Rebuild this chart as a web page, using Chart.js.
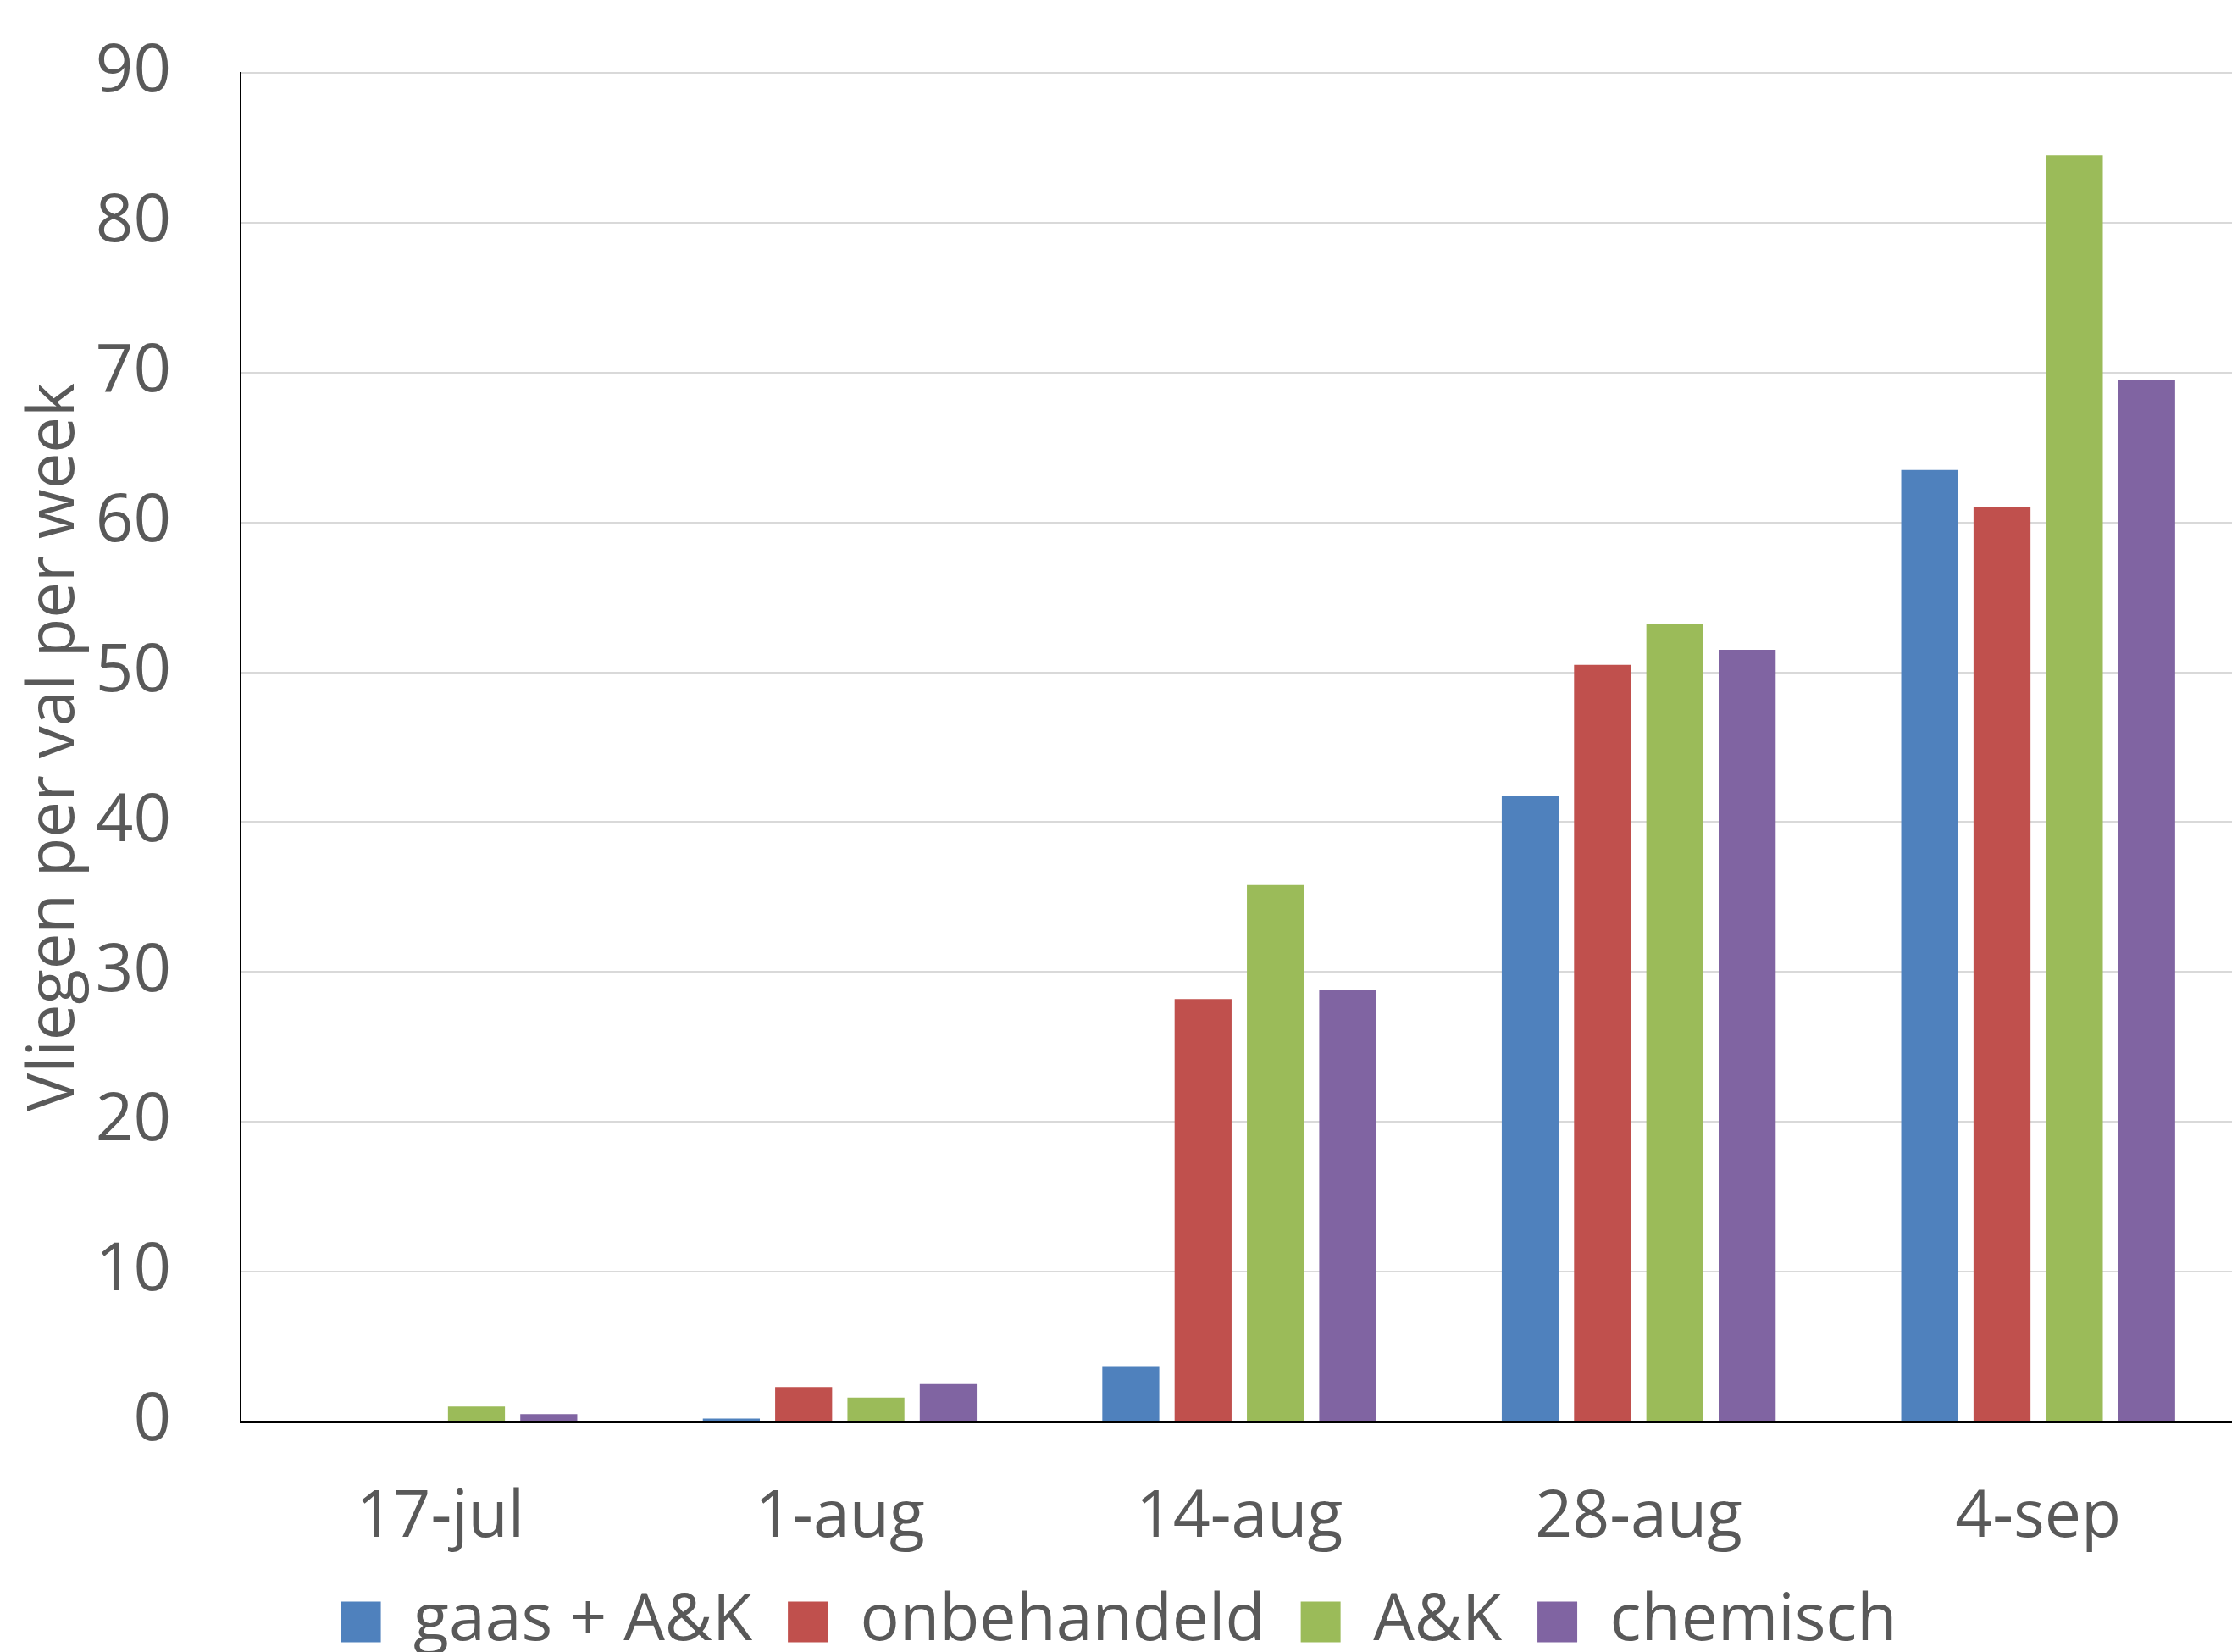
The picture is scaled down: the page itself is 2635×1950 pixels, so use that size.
<!DOCTYPE html>
<html>
<head>
<meta charset="utf-8">
<script src="https://cdn.jsdelivr.net/npm/chart.js@4.4.1/dist/chart.umd.min.js"></script>
<style>
  html, body { margin: 0; padding: 0; background: #fff; overflow: hidden; }
  #wrap { width: 2642px; height: 1963px; }
</style>
</head>
<body>
<div id="wrap"><canvas id="chart" width="2642" height="1963"></canvas></div>
<script>
// data
const dates = ["17-jul", "1-aug", "14-aug", "28-aug", "4-sep"];
const gaasAK = [0, 0.2, 3.7, 41.75, 63.5];
const onbehandeld = [0, 2.3, 28.2, 50.5, 61.0];
const ak = [1.0, 1.6, 35.8, 53.25, 84.5];
const chemisch = [0.5, 2.5, 28.8, 51.5, 69.5];
const seriesNames = ["gaas + A&K", "onbehandeld", "A&K", "chemisch"];
const seriesColors = ["#4F81BD", "#C0504D", "#9BBB59", "#8064A2"];
const yMax = 90;
const yStep = 10;
const yTitle = "Vliegen per val per week";

const textColor = "#595959";
const fontFamily = "'Open Sans', 'DejaVu Sans', sans-serif";

const datasets = [gaasAK, onbehandeld, ak, chemisch].map((values, i) => ({
  label: seriesNames[i],
  data: values,
  backgroundColor: seriesColors[i],
  borderWidth: 0,
  categoryPercentage: 0.724,
  barPercentage: 0.788,
}));

new Chart(document.getElementById("chart"), {
  type: "bar",
  data: { labels: dates, datasets },
  options: {
    responsive: false,
    animation: false,
    devicePixelRatio: 1,
    layout: { padding: { top: 86, left: 0, right: 0, bottom: 0 } },
    plugins: {
      tooltip: { enabled: false },
      legend: {
        position: "bottom",
        labels: {
          color: textColor,
          font: { family: fontFamily, size: 77 },
          boxWidth: 47,
          boxHeight: 48,
          padding: 42,
        },
      },
    },
    scales: {
      x: {
        grid: { display: false },
        border: { color: "#000", width: 3 },
        ticks: {
          color: textColor,
          font: { family: fontFamily, size: 77 },
          padding: 60,
          maxRotation: 0,
        },
        afterFit(scale) { scale.height = 156; },
      },
      y: {
        min: 0,
        max: yMax,
        ticks: {
          stepSize: yStep,
          color: textColor,
          font: { family: fontFamily, size: 78 },
          padding: 0,
        },
        // invisible tick marks keep the labels away from the axis
        grid: {
          color: "#D9D9D9",
          lineWidth: 2,
          drawTicks: true,
          tickLength: 82,
          tickColor: "rgba(0,0,0,0)",
        },
        border: { color: "#000", width: 2 },
        title: {
          display: true,
          text: yTitle,
          color: textColor,
          font: { family: fontFamily, size: 76 },
          padding: { top: 20, bottom: 0 },
        },
        afterFit(scale) { scale.width = 284; },
      },
    },
  },
});
</script>
</body>
</html>
